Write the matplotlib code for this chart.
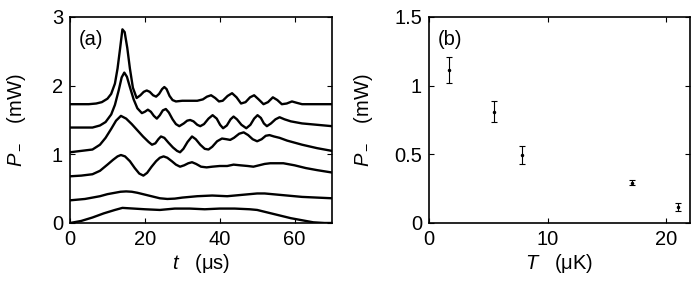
import matplotlib
matplotlib.use("Agg")
import matplotlib.pyplot as plt

plt.rcParams.update({
    "font.family": ["Liberation Sans", "DejaVu Sans"],
    "mathtext.fontset": "custom",
    "mathtext.rm": "Liberation Sans",
    "mathtext.it": "Liberation Sans:italic",
    "font.size": 14.5,
    "axes.linewidth": 1.2,
    "xtick.direction": "in",
    "ytick.direction": "in",
    "xtick.top": True,
    "ytick.right": True,
    "xtick.major.size": 3.5,
    "ytick.major.size": 3.5,
    "xtick.major.pad": 5,
    "ytick.major.pad": 5,
})

# (a) time traces, six temperatures (t in us, P in mW)
t1 = [0, 5, 7, 8.5, 10, 11, 12, 12.7, 13.4, 14, 14.6, 15.3, 16, 16.8, 17.8, 18.8, 19.7, 20.5, 21.3,
      22.2, 23, 23.8, 24.6, 25.2, 25.8, 26.6, 27.4, 28.3, 30, 32, 34, 35.5, 36.6, 37.7, 38.8, 39.8,
      40.8, 42.1, 43.3, 44.5, 45.7, 46.9, 48.1, 49.2, 50.4, 51.7, 52.9, 54.2, 55.4, 56.6, 57.9,
      59.3, 60.6, 62, 66, 70]
p1 = [1.73, 1.73, 1.74, 1.76, 1.81, 1.88, 2.03, 2.25, 2.55, 2.82, 2.78, 2.55, 2.25, 1.97, 1.82,
      1.86, 1.91, 1.93, 1.91, 1.86, 1.84, 1.88, 1.95, 1.98, 1.95, 1.85, 1.79, 1.77, 1.78, 1.78,
      1.78, 1.80, 1.84, 1.86, 1.82, 1.77, 1.78, 1.85, 1.89, 1.83, 1.74, 1.76, 1.83, 1.86, 1.80,
      1.73, 1.76, 1.83, 1.79, 1.73, 1.74, 1.77, 1.75, 1.73, 1.73, 1.73]

t2 = [0, 6, 8, 9.5, 11, 12, 13, 13.8, 14.5, 15.2, 16, 17, 18, 19.2, 20, 20.8, 21.6, 22.4, 23.2, 24,
      24.8, 25.6, 26.4, 27.4, 28.3, 29.2, 30.4, 31.3, 32.1, 33, 34, 34.8, 35.8, 37, 38.1, 39.2,
      40.1, 40.9, 41.9, 42.9, 43.7, 44.6, 45.8, 47.1, 48.2, 49.2, 50.1, 51, 51.8, 52.6, 53.7,
      54.9, 56, 57.3, 59, 62, 66, 70]
p2 = [1.39, 1.39, 1.42, 1.47, 1.58, 1.72, 1.93, 2.12, 2.19, 2.13, 1.98, 1.80, 1.67, 1.60, 1.62,
      1.65, 1.62, 1.56, 1.52, 1.57, 1.64, 1.66, 1.61, 1.51, 1.44, 1.41, 1.45, 1.49, 1.50, 1.48,
      1.43, 1.41, 1.44, 1.52, 1.57, 1.52, 1.43, 1.38, 1.42, 1.51, 1.55, 1.51, 1.43, 1.38, 1.43,
      1.52, 1.57, 1.53, 1.45, 1.41, 1.45, 1.51, 1.54, 1.51, 1.48, 1.45, 1.43, 1.41]

t3 = [0, 3, 6, 8, 9.5, 11, 12.3, 13.6, 15, 16.5, 18, 19.5, 21, 21.9, 22.8, 23.6, 24.3, 25.2, 26.3,
      27.5, 28.6, 29.4, 30.3, 31.4, 32.6, 33.6, 34.8, 36, 37, 38, 39.3, 40.6, 41.8, 42.8, 43.8,
      45.2, 46.4, 47.6, 48.8, 50, 51.2, 52.3, 53.3, 54.5, 56, 58, 62, 66, 70]
p3 = [1.03, 1.05, 1.07, 1.14, 1.24, 1.37, 1.49, 1.56, 1.52, 1.44, 1.35, 1.26, 1.18, 1.14, 1.16,
      1.22, 1.26, 1.24, 1.17, 1.1, 1.05, 1.03, 1.08, 1.18, 1.26, 1.22, 1.14, 1.08, 1.07, 1.11,
      1.19, 1.23, 1.22, 1.21, 1.24, 1.30, 1.32, 1.28, 1.22, 1.19, 1.22, 1.27, 1.28, 1.26, 1.24,
      1.2, 1.14, 1.09, 1.05]

t4 = [0, 3, 6, 8, 10, 11.5, 12.7, 13.6, 14.7, 16, 17.3, 18.5, 19.6, 20.6, 21.8, 23, 24, 25, 26,
      27.2, 28.3, 29.4, 30.5, 31.6, 32.6, 33.7, 35, 36.5, 38, 40, 42, 43.7, 45.5, 47.5, 49, 50.5,
      52, 53.5, 55, 57, 60, 63, 66, 70]
p4 = [0.68, 0.69, 0.71, 0.76, 0.85, 0.92, 0.97, 0.99, 0.97, 0.9, 0.8, 0.72, 0.69, 0.73, 0.82, 0.9,
      0.95, 0.97, 0.95, 0.9, 0.85, 0.82, 0.84, 0.87, 0.885, 0.86, 0.82, 0.81, 0.82, 0.83, 0.83,
      0.85, 0.84, 0.83, 0.82, 0.84, 0.86, 0.87, 0.87, 0.87, 0.84, 0.8, 0.77, 0.735]

t5 = [0, 4, 8, 10, 12, 13.5, 15, 16.5, 18, 21, 24, 26, 28, 30, 34, 38, 42, 46, 48, 50, 52, 54, 58,
      62, 66, 70]
p5 = [0.33, 0.35, 0.39, 0.42, 0.44, 0.455, 0.46, 0.455, 0.44, 0.40, 0.36, 0.35, 0.355, 0.37, 0.39,
      0.40, 0.39, 0.41, 0.42, 0.43, 0.43, 0.42, 0.40, 0.38, 0.37, 0.36]

t6 = [0, 3, 6, 9, 12, 14, 17, 20, 24, 28, 32, 36, 40, 44, 48, 50, 53, 56, 59, 62, 65, 68, 70]
p6 = [0.0, 0.03, 0.08, 0.14, 0.19, 0.22, 0.21, 0.20, 0.19, 0.21, 0.21, 0.20, 0.21, 0.21, 0.20,
      0.19, 0.15, 0.11, 0.07, 0.04, 0.01, 0.0, 0.0]

# (b) peak power vs temperature
temps = [1.72, 5.44, 7.83, 17.1, 21.0]
power = [1.113, 0.81, 0.496, 0.293, 0.118]
power_err = [0.095, 0.075, 0.067, 0.017, 0.03]

fig = plt.figure(figsize=(6.96, 2.84), dpi=100)
ax_a = fig.add_axes([0.1006, 0.2148, 0.3764, 0.7254])
ax_b = fig.add_axes([0.6164, 0.2148, 0.375, 0.7254])

for t, p in [(t1, p1), (t2, p2), (t3, p3), (t4, p4), (t5, p5), (t6, p6)]:
    ax_a.plot(t, p, color="black", linewidth=1.7, solid_joinstyle="round")
ax_a.set_xlim(0, 70)
ax_a.set_ylim(0, 3)
ax_a.set_xticks([0, 20, 40, 60])
ax_a.set_yticks([0, 1, 2, 3])
ax_a.set_xlabel(r"$t$   ($\mathrm{\mu s}$)", labelpad=2)
ax_a.set_ylabel(r"$P_-$   (mW)", labelpad=17)
ax_a.text(0.035, 0.935, "(a)", transform=ax_a.transAxes, va="top", ha="left")

ax_b.errorbar(temps, power, yerr=power_err, fmt=".", color="black", markersize=3,
              elinewidth=0.8, capsize=2, capthick=0.8)
ax_b.set_xlim(0, 22)
ax_b.set_ylim(0, 1.5)
ax_b.set_xticks([0, 10, 20])
ax_b.set_yticks([0, 0.5, 1, 1.5])
ax_b.set_yticklabels(["0", "0.5", "1", "1.5"])
ax_b.set_xlabel(r"$T$   ($\mathrm{\mu K}$)", labelpad=2)
ax_b.set_ylabel(r"$P_-$   (mW)", labelpad=14)
ax_b.text(0.035, 0.935, "(b)", transform=ax_b.transAxes, va="top", ha="left")

fig.savefig("out.png", dpi=100)
